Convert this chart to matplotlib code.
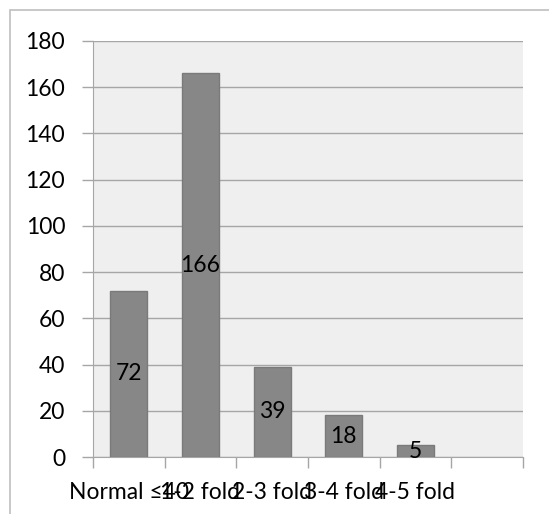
import matplotlib
matplotlib.use("Agg")
import matplotlib.pyplot as plt
from matplotlib.patches import Rectangle

categories = ["Normal \u226440", "1-2 fold", "2-3 fold", "3-4 fold", "4-5 fold", ""]
values = [72, 166, 39, 18, 5, None]
yticks = [0, 20, 40, 60, 80, 100, 120, 140, 160, 180]

plt.rcParams['font.family'] = ['Lato', 'DejaVu Sans']
FS = 16.5

fig = plt.figure(figsize=(5.49, 5.14), dpi=100)
fig.patch.set_facecolor("white")
# outer chart border (top and left visible)
fig.add_artist(Rectangle((10/549, -0.05), 1.1, (1 - 10/514) + 0.05,
                         transform=fig.transFigure, fill=False,
                         edgecolor="#bfbfbf", linewidth=1.2))

ax = fig.add_axes([93/549, 1 - 457/514, (523 - 93)/549, (457 - 41)/514])
ax.set_facecolor("#efefef")

xs = list(range(len(categories)))
bar_x = [x for x, v in zip(xs, values) if v is not None]
bar_v = [v for v in values if v is not None]
bars = ax.bar(bar_x, bar_v, width=0.52, color="#878787", edgecolor="#7a7a7a",
              linewidth=1, zorder=3)
for x, v in zip(bar_x, bar_v):
    ax.text(x, v / 2, str(v), ha="center", va="center", fontsize=FS,
            color="black", zorder=4)

ax.set_xlim(-0.5, len(categories) - 0.5)
ax.set_ylim(0, 180)
ax.set_yticks(yticks)
ax.set_yticklabels([str(t) for t in yticks], fontsize=FS)
ax.yaxis.grid(True, color="#a6a6a6", linewidth=1, zorder=0)
ax.set_axisbelow(True)

ax.set_xticks(xs)
ax.set_xticklabels(categories, fontsize=FS)
ax.tick_params(axis="x", length=0, pad=18)
ax.set_xticks([x - 0.5 for x in xs] + [len(categories) - 0.5], minor=True)
ax.tick_params(axis="x", which="minor", length=8, color="#a6a6a6", width=1)
ax.tick_params(axis="y", length=8, color="#a6a6a6", width=1, pad=12)

for s in ["top", "right"]:
    ax.spines[s].set_visible(False)
ax.spines["left"].set_color("#a6a6a6")
ax.spines["bottom"].set_color("#a6a6a6")

fig.savefig("out.png", dpi=100)
